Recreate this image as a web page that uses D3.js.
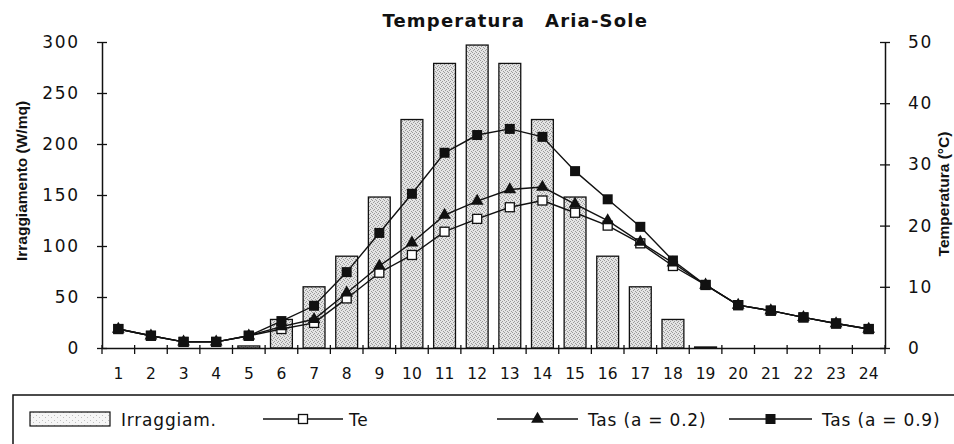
<!DOCTYPE html>
<html><head><meta charset="utf-8">
<script src="https://cdn.jsdelivr.net/npm/d3@7"></script>
<style>
html,body{margin:0;padding:0;background:#fff;}
svg{display:block;}
</style></head>
<body>
<svg id="chart" width="954" height="444"></svg>
<script>
const hours = ["1","2","3","4","5","6","7","8","9","10","11","12","13","14","15","16","17","18","19","20","21","22","23","24"];
const irraggiamento = [0,0,0,0,2,28,60,90,148,224,279,297,279,224,148,90,60,28,1,0,0,0,0,0];
const te = [3.1,2.0,1.0,1.0,2.0,3.1,4.1,8.1,12.3,15.2,19.0,21.1,23.0,24.1,22.1,20.0,17.1,13.4,10.3,7.0,6.1,5.0,4.0,3.1];
const tas02 = [3.1,2.0,1.0,1.0,2.0,3.5,4.7,9.0,13.4,17.2,21.7,24.0,25.9,26.3,23.5,20.8,17.3,13.9,10.3,7.0,6.1,5.0,4.0,3.1];
const tas09 = [3.1,2.0,1.0,1.0,2.0,4.4,6.9,12.4,18.8,25.2,31.9,34.8,35.8,34.5,28.9,24.3,19.8,14.3,10.3,7.0,6.1,5.0,4.0,3.1];
const leftTicks = [0,50,100,150,200,250,300];
const rightTicks = [0,10,20,30,40,50];
const titleA = "Temperatura";
const titleB = "Aria-Sole";
const leftLabel = "Irraggiamento (W/mq)";
const rightLabel = "Temperatura (°C)";
const legendLabels = ["Irraggiam.", "Te", "Tas (a = 0.2)", "Tas (a = 0.9)"];

const svg = d3.select("#chart");
const font = "'DejaVu Sans', Verdana, sans-serif";
const narrow = "'Liberation Sans Narrow', 'Liberation Sans', Arial, sans-serif";
const m = {l:102, r:885, t:42, b:348};

// pattern for bars
const defs = svg.append("defs");
const pat = defs.append("pattern").attr("id","stipple").attr("patternUnits","userSpaceOnUse").attr("width",4).attr("height",4);
pat.append("rect").attr("width",4).attr("height",4).attr("fill","#e4e4e4");
[[0,0],[2,1],[1,2],[3,3]].forEach(([x,y])=>pat.append("rect").attr("x",x).attr("y",y).attr("width",1).attr("height",1).attr("fill","#9a9a9a"));
const pat2 = defs.append("pattern").attr("id","stipple2").attr("patternUnits","userSpaceOnUse").attr("width",6).attr("height",5);
pat2.append("rect").attr("width",6).attr("height",5).attr("fill","#f6f6f6");
[[0,0],[3,2]].forEach(([x,y])=>pat2.append("rect").attr("x",x).attr("y",y).attr("width",1).attr("height",1).attr("fill","#c0c0c0"));

const x = d3.scaleBand().domain(hours).range([m.l, m.r]).paddingInner(0.33).paddingOuter(0.165);
const xb = d3.scaleBand().domain(hours).range([m.l, m.r]);
const yL = d3.scaleLinear().domain([0,300]).range([m.b, m.t]);
const yR = d3.scaleLinear().domain([0,50]).range([m.b, m.t]);

// bars
svg.append("g").selectAll("rect").data(irraggiamento).join("rect")
  .attr("x",(d,i)=>x(hours[i]))
  .attr("width",x.bandwidth())
  .attr("y",d=>yL(d))
  .attr("height",d=>m.b-yL(d))
  .attr("fill","url(#stipple)")
  .attr("stroke","#111").attr("stroke-width",1.3);

// axes
const axL = svg.append("g").attr("transform",`translate(${m.l},0)`)
  .call(d3.axisLeft(yL).tickValues(leftTicks).tickSize(5).tickPadding(17).tickSizeOuter(0));
axL.selectAll(".tick line").attr("x1",5).attr("x2",-5);
const axR = svg.append("g").attr("transform",`translate(${m.r},0)`)
  .call(d3.axisRight(yR).tickValues(rightTicks).tickSize(5).tickPadding(18).tickSizeOuter(0));
axR.selectAll(".tick line").attr("x1",-5).attr("x2",5);
const axB = svg.append("g").attr("transform",`translate(0,${m.b})`)
  .call(d3.axisBottom(xb).tickSize(0).tickPadding(20).tickSizeOuter(0));
const bounds = hours.map(h=>xb(h)).concat([m.r]);
svg.append("g").selectAll("line").data(bounds).join("line")
  .attr("x1",d=>d).attr("x2",d=>d).attr("y1",m.b-3).attr("y2",m.b+6)
  .attr("stroke","#111").attr("stroke-width",1.3);
[axL,axR,axB].forEach(a=>{
  a.select(".domain").attr("stroke","#111").attr("stroke-width",1.5);
  a.selectAll(".tick line").attr("stroke","#111").attr("stroke-width",1.3);
  a.selectAll("text").attr("fill","#111").attr("font-family",font);
});
axL.selectAll("text").attr("font-size",17).attr("letter-spacing","1.8px");
axR.selectAll("text").attr("font-size",17).attr("letter-spacing","1.8px");
axB.selectAll("text").attr("font-size",15.5);

// lines
function series(vals, kind){
  const g = svg.append("g");
  const line = d3.line().x((d,i)=>xb(hours[i])+xb.bandwidth()/2).y(d=>yR(d));
  g.append("path").datum(vals).attr("d",line).attr("fill","none").attr("stroke","#111").attr("stroke-width",1.4);
  const pts = g.selectAll("g").data(vals).join("g")
    .attr("transform",(d,i)=>`translate(${xb(hours[i])+xb.bandwidth()/2},${yR(d)})`);
  drawMarker(pts, kind);
}
function drawMarker(sel, kind){
  if(kind==="open") sel.append("rect").attr("x",-4.5).attr("y",-4.5).attr("width",9).attr("height",9).attr("fill","#fff").attr("stroke","#111").attr("stroke-width",1.3);
  else if(kind==="filled") sel.append("rect").attr("x",-5).attr("y",-5).attr("width",10).attr("height",10).attr("fill","#111");
  else sel.append("path").attr("d",d3.symbol(d3.symbolTriangle,70)()).attr("fill","#111");
}
series(te,"open");
series(tas02,"tri");
series(tas09,"filled");

// titles
svg.append("text").attr("x",525).attr("y",27).attr("text-anchor","end")
  .attr("font-family",font).attr("font-weight","bold").attr("font-size",18).attr("letter-spacing","1.2px").attr("fill","#111").text(titleA);
svg.append("text").attr("x",545).attr("y",27).attr("text-anchor","start")
  .attr("font-family",font).attr("font-weight","bold").attr("font-size",18).attr("letter-spacing","1.2px").attr("fill","#111").text(titleB);
svg.append("text").attr("transform","translate(27,181) rotate(-90)").attr("text-anchor","middle")
  .attr("font-family",narrow).attr("font-stretch","condensed")
  .attr("font-weight","bold").attr("font-size",15.5).attr("fill","#111").text(leftLabel);
svg.append("text").attr("transform","translate(949,194) rotate(-90)").attr("text-anchor","middle")
  .attr("font-family",narrow).attr("font-stretch","condensed")
  .attr("font-weight","bold").attr("font-size",15.5).attr("fill","#111").text(rightLabel);

// legend
const lg = svg.append("g");
lg.append("rect").attr("x",13).attr("y",395).attr("width",960).attr("height",80).attr("fill","none").attr("stroke","#111").attr("stroke-width",1.5);
lg.append("rect").attr("x",30).attr("y",412).attr("width",80).attr("height",14).attr("fill","url(#stipple2)").attr("stroke","#111").attr("stroke-width",1.2);
const items = [
  {x0:263,x1:343,kind:"open",tx:349},
  {x0:497,x1:578,kind:"tri",tx:588},
  {x0:729,x1:812,kind:"filled",tx:822}
];
const legFont = (sel)=>sel.attr("font-family",font).attr("font-size",17).attr("letter-spacing","0.8px").attr("fill","#111");
legFont(lg.append("text").attr("x",121).attr("y",426)).text(legendLabels[0]);
items.forEach((it,k)=>{
  lg.append("line").attr("x1",it.x0).attr("x2",it.x1).attr("y1",419).attr("y2",419).attr("stroke","#111").attr("stroke-width",1.4);
  const mg = lg.append("g").attr("transform",`translate(${(it.x0+it.x1)/2},419)`);
  drawMarker(mg, it.kind);
  legFont(lg.append("text").attr("x",it.tx).attr("y",426)).text(legendLabels[k+1]);
});
</script>
</body></html>
